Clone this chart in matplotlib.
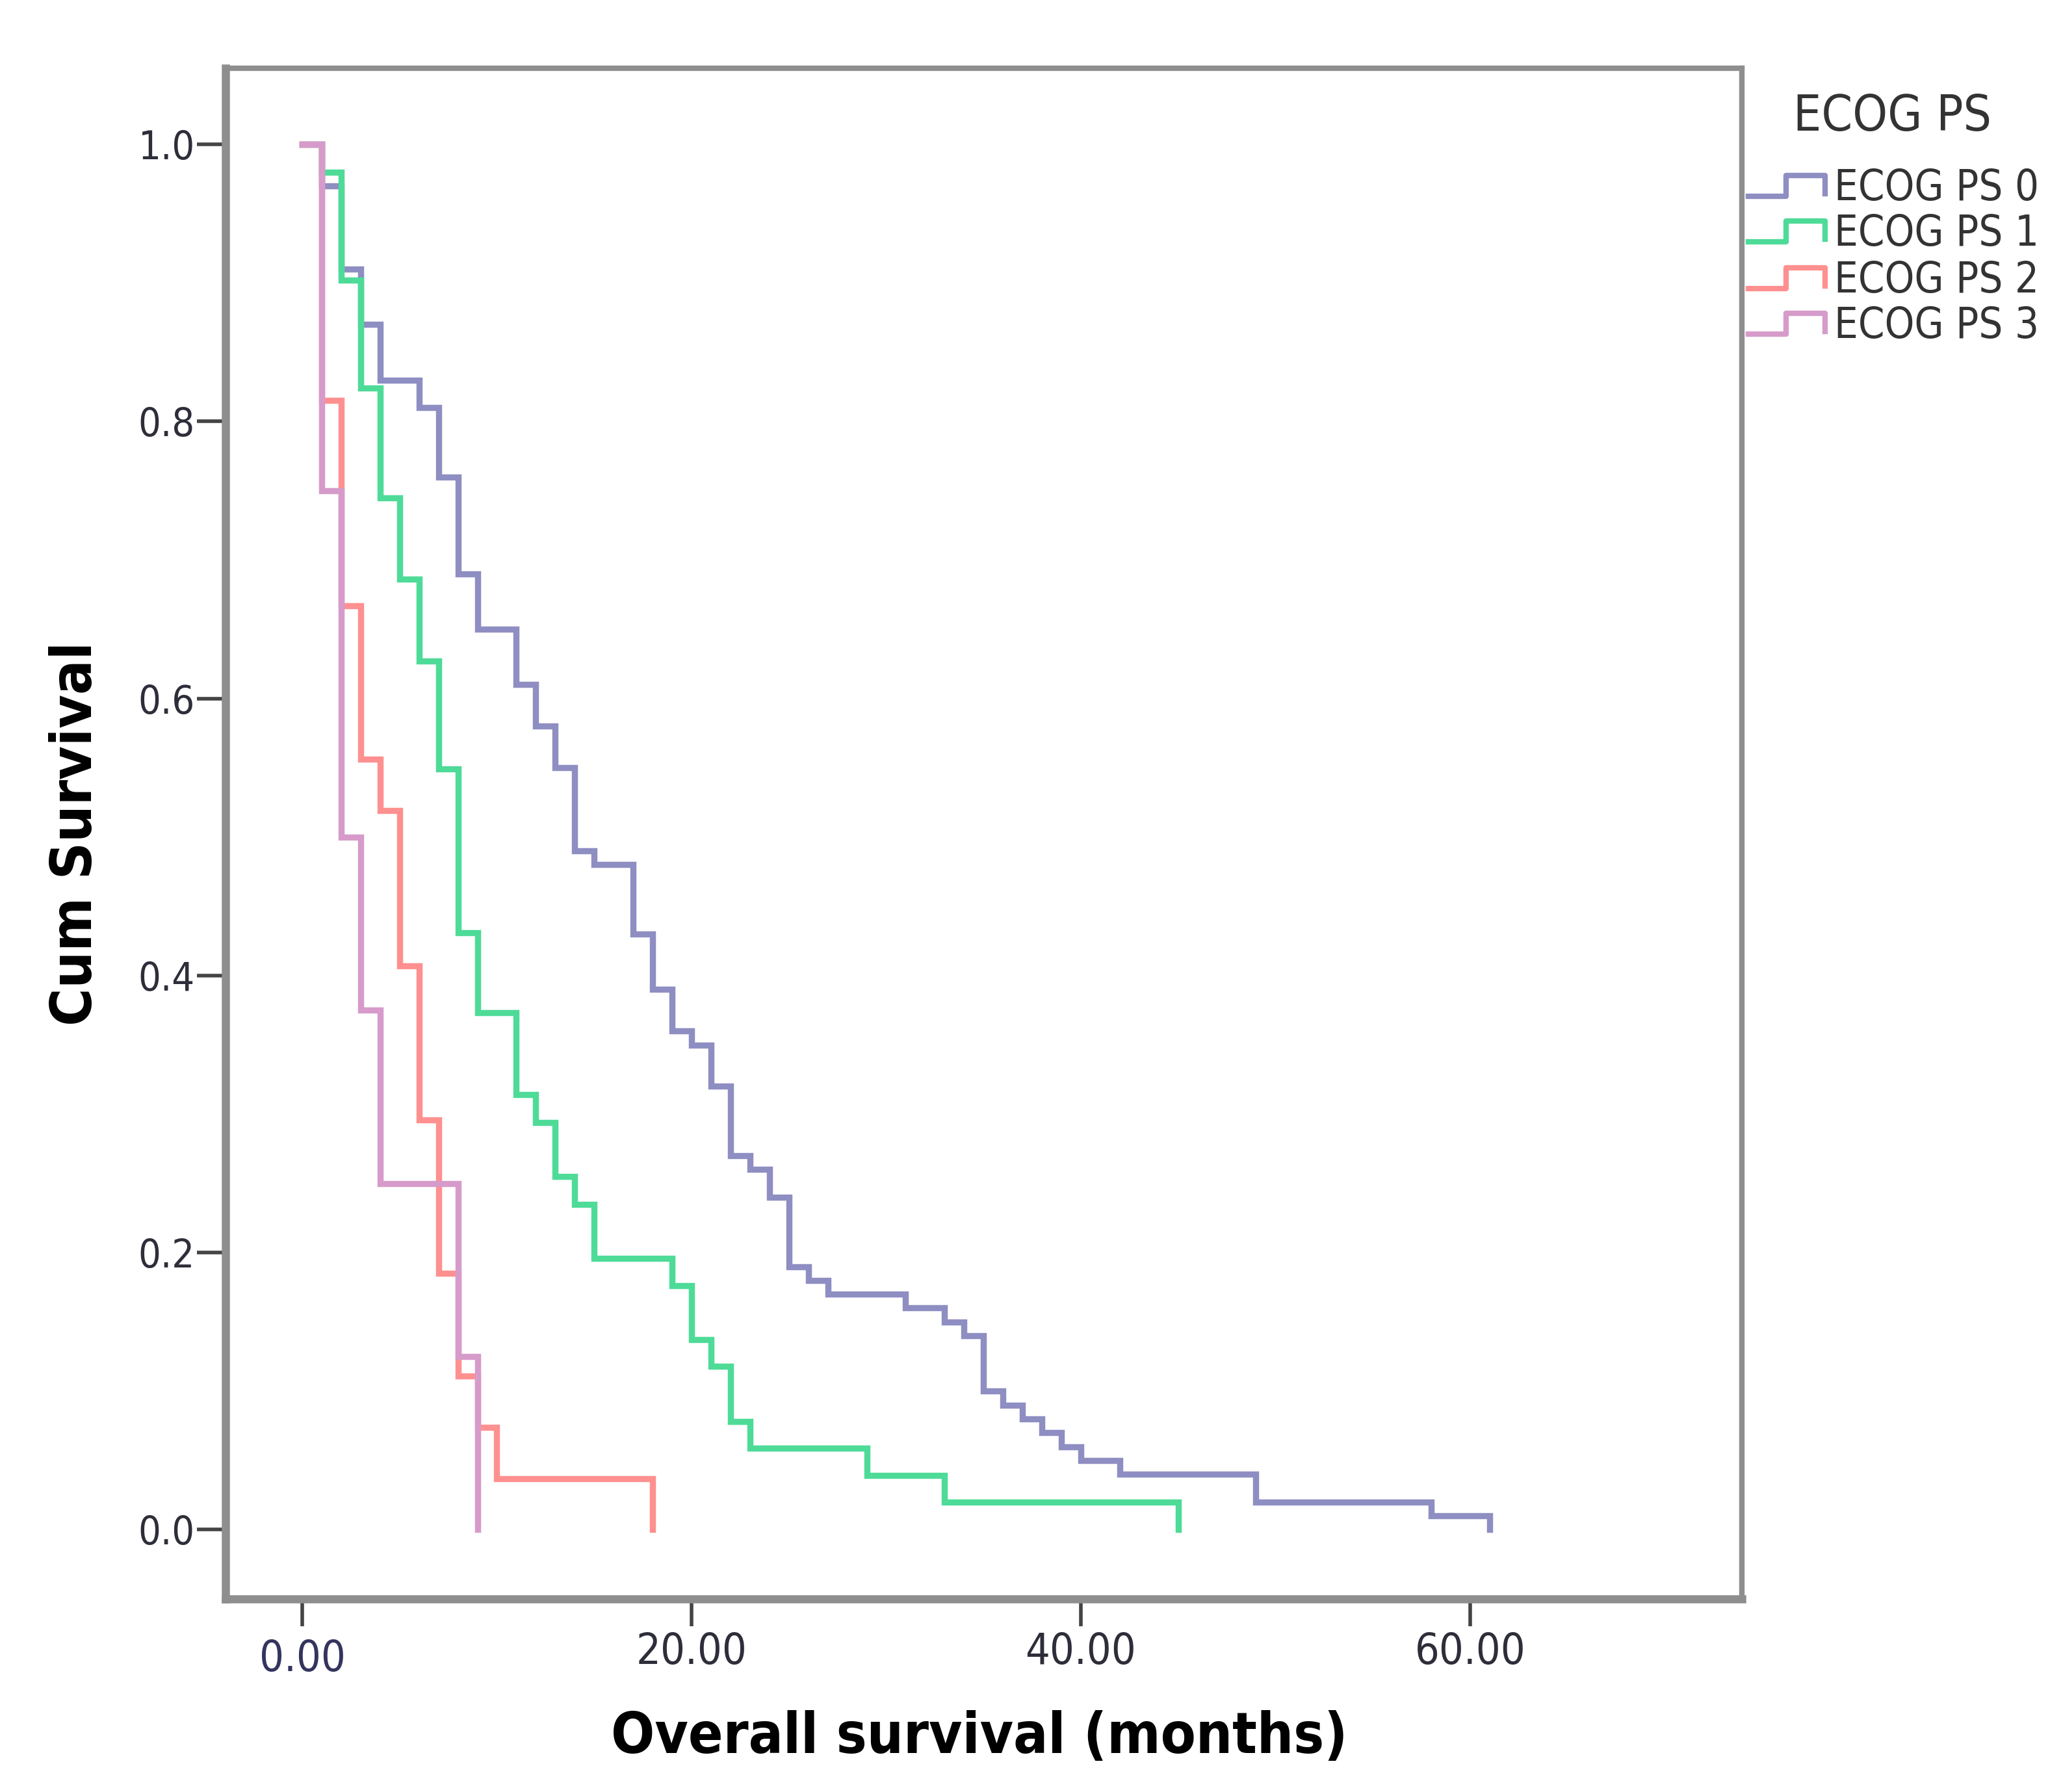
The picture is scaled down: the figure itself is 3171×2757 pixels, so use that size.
import os
import matplotlib
matplotlib.use("Agg")
import matplotlib.pyplot as plt
from matplotlib import font_manager
from matplotlib.font_manager import FontProperties
from matplotlib.lines import Line2D

# ---------------- data ----------------
groups = ["ECOG PS 0", "ECOG PS 1", "ECOG PS 2", "ECOG PS 3"]

ps0_time = [0, 1, 2, 3, 4, 6, 7, 8, 9, 11, 12, 13, 14, 15, 17, 18, 19, 20, 21, 22,
            23, 24, 25, 26, 27, 31, 33, 34, 35, 36, 37, 38, 39, 40, 42, 49, 58, 61]
ps0_surv = [1.0, 0.97, 0.91, 0.87, 0.83, 0.81, 0.76, 0.69, 0.65, 0.61, 0.58, 0.55, 0.49,
            0.48, 0.43, 0.39, 0.36, 0.35, 0.32, 0.27, 0.26, 0.24, 0.19, 0.18, 0.17, 0.16,
            0.15, 0.14, 0.10, 0.09, 0.08, 0.07, 0.06, 0.05, 0.04, 0.02, 0.01, 0.0]

ps1_time = [0, 1, 2, 3, 4, 5, 6, 7, 8, 9, 11, 12, 13, 14, 15, 19, 20, 21, 22, 23, 29, 33, 45]
ps1_surv = [1.0, 0.980, 0.902, 0.824, 0.745, 0.686, 0.627, 0.549, 0.431, 0.373, 0.314,
            0.294, 0.255, 0.235, 0.196, 0.176, 0.137, 0.118, 0.078, 0.059, 0.039, 0.020, 0.0]

ps2_time = [0, 1, 2, 3, 4, 5, 6, 7, 8, 9, 10, 18]
ps2_surv = [1.0, 0.815, 0.667, 0.556, 0.519, 0.407, 0.296, 0.185, 0.111, 0.074, 0.037, 0.0]

ps3_time = [0, 1, 2, 3, 4, 8, 9]
ps3_surv = [1.0, 0.75, 0.50, 0.375, 0.25, 0.125, 0.0]

series_time = [ps0_time, ps1_time, ps2_time, ps3_time]
series_surv = [ps0_surv, ps1_surv, ps2_surv, ps3_surv]
colors = ["#8e8ec2", "#4edb98", "#ff9090", "#d69bca"]

xticks = [0, 20, 40, 60]
xticklabels = ["0.00", "20.00", "40.00", "60.00"]
yticks = [0.0, 0.2, 0.4, 0.6, 0.8, 1.0]
yticklabels = ["0.0", "0.2", "0.4", "0.6", "0.8", "1.0"]


# ---------------- fonts: prefer a narrow / condensed sans ----------------
def find_condensed(bold):
    prefs = ["LiberationSansNarrow", "DejaVuSansCondensed", "RobotoCondensed",
             "OpenSans_Condensed", "OpenSansCondensed", "OpenSans-Condensed",
             "NotoSans-Condensed", "NotoSansCondensed", "Condensed", "Narrow"]
    files = []
    for f in font_manager.fontManager.ttflist:
        base = os.path.basename(f.fname)
        low = base.lower()
        if any(k in low for k in ["mono", "serif", "italic", "oblique", "cjk", "display"]):
            continue
        if not ("condensed" in low or "narrow" in low or
                f.stretch in ("condensed", "semi-condensed")):
            continue
        if "extra" in low or "ultra" in low or "semi" in low and "bold" in low:
            continue
        isbold = "bold" in low and "semibold" not in low
        if bold != isbold:
            continue
        if not bold and any(k in low for k in ["light", "thin", "medium", "black", "semibold"]):
            continue
        files.append(f.fname)
    for p in prefs:
        for fn in files:
            if p.lower() in os.path.basename(fn).lower():
                return fn
    return files[0] if files else None


reg_file = find_condensed(False)
bold_file = find_condensed(True)
fp_reg = FontProperties(fname=reg_file) if reg_file else FontProperties(family="DejaVu Sans")
fp_bold = FontProperties(fname=bold_file) if bold_file else FontProperties(family="DejaVu Sans", weight="bold")

W, H = 3171, 2757
DPI = 200
fig = plt.figure(figsize=(W / DPI, H / DPI), dpi=DPI)
fig.patch.set_facecolor("white")

ax_l, ax_r, ax_t, ax_b = 347, 2680, 105, 2460
ax = fig.add_axes([ax_l / W, 1 - ax_b / H, (ax_r - ax_l) / W, (ax_b - ax_t) / H])

for t, s, c in zip(series_time, series_surv, colors):
    ax.step(t, s, where="post", color=c, lw=3.4, solid_joinstyle="miter")

ax.set_xlim(-3.94, 73.96)
ax.set_ylim(-0.050, 1.055)

ax.set_xticks(xticks)
ax.set_xticklabels(xticklabels)
ax.set_yticks(yticks)
ax.set_yticklabels(yticklabels)

ax.tick_params(axis="x", direction="out", length=15, width=2, color="#444444",
               pad=3, labelcolor="#2e2e3a")
ax.tick_params(axis="y", direction="out", length=16, width=2, color="#444444",
               pad=1, labelcolor="#2e2e3a")
ax.xaxis.get_major_ticks()[0].set_pad(7)
ax.get_xticklabels()[0].set_color("#34345e")

for side in ["left", "bottom"]:
    ax.spines[side].set_linewidth(4.5)
    ax.spines[side].set_color("#8e8e8e")
for side in ["top", "right"]:
    ax.spines[side].set_linewidth(3.0)
    ax.spines[side].set_color("#8e8e8e")

xl = ax.set_xlabel("Overall survival (months)", fontproperties=fp_bold, va="center")
ax.xaxis.set_label_coords(0.497, -(2673 - ax_b) / (ax_b - ax_t))
yl = ax.set_ylabel("Cum Survival", fontproperties=fp_bold, va="center")
ax.yaxis.set_label_coords((117 - ax_l) / (ax_r - ax_l), 0.5)

for lab in ax.get_xticklabels() + ax.get_yticklabels():
    lab.set_fontproperties(fp_reg)

# ---------------- legend (drawn outside the axes) ----------------
title = fig.text(2912 / W, 1 - 180 / H, "ECOG PS", fontproperties=fp_reg,
                 ha="center", va="center", color="#333333")
row_centers = [290, 360, 432, 502]
leg_texts = []
for name, c, yc in zip(groups, colors, row_centers):
    xs = [2690, 2748, 2748, 2808, 2808]
    ys = [yc + 12, yc + 12, yc - 20, yc - 20, yc + 8]
    fig.add_artist(Line2D([x / W for x in xs], [1 - y / H for y in ys],
                          transform=fig.transFigure, color=c, lw=3.0))
    leg_texts.append(fig.text(2822 / W, 1 - yc / H, name, fontproperties=fp_reg,
                              ha="left", va="center", color="#333333"))

# ---------------- size texts to the reference's measured extents ----------------
renderer = fig.canvas.get_renderer()


def fit(artists, target, use_height=False, maxsize=40):
    for a in artists:
        a.set_fontsize(20)
    bb = artists[0].get_window_extent(renderer)
    cur = bb.height if use_height else bb.width
    size = min(maxsize, 20 * target / cur)
    for a in artists:
        a.set_fontsize(size)


fig.canvas.draw()
fit(ax.get_yticklabels(), 87, maxsize=26)
fit(ax.get_xticklabels()[1:] + ax.get_xticklabels()[:1], 170, maxsize=30)
fit([xl], 1132, maxsize=40)
fit([yl], 590, use_height=True, maxsize=40)
fit([title], 305, maxsize=30)
fit(leg_texts, 315, maxsize=26)

fig.savefig("out.png", dpi=DPI, facecolor="white")
